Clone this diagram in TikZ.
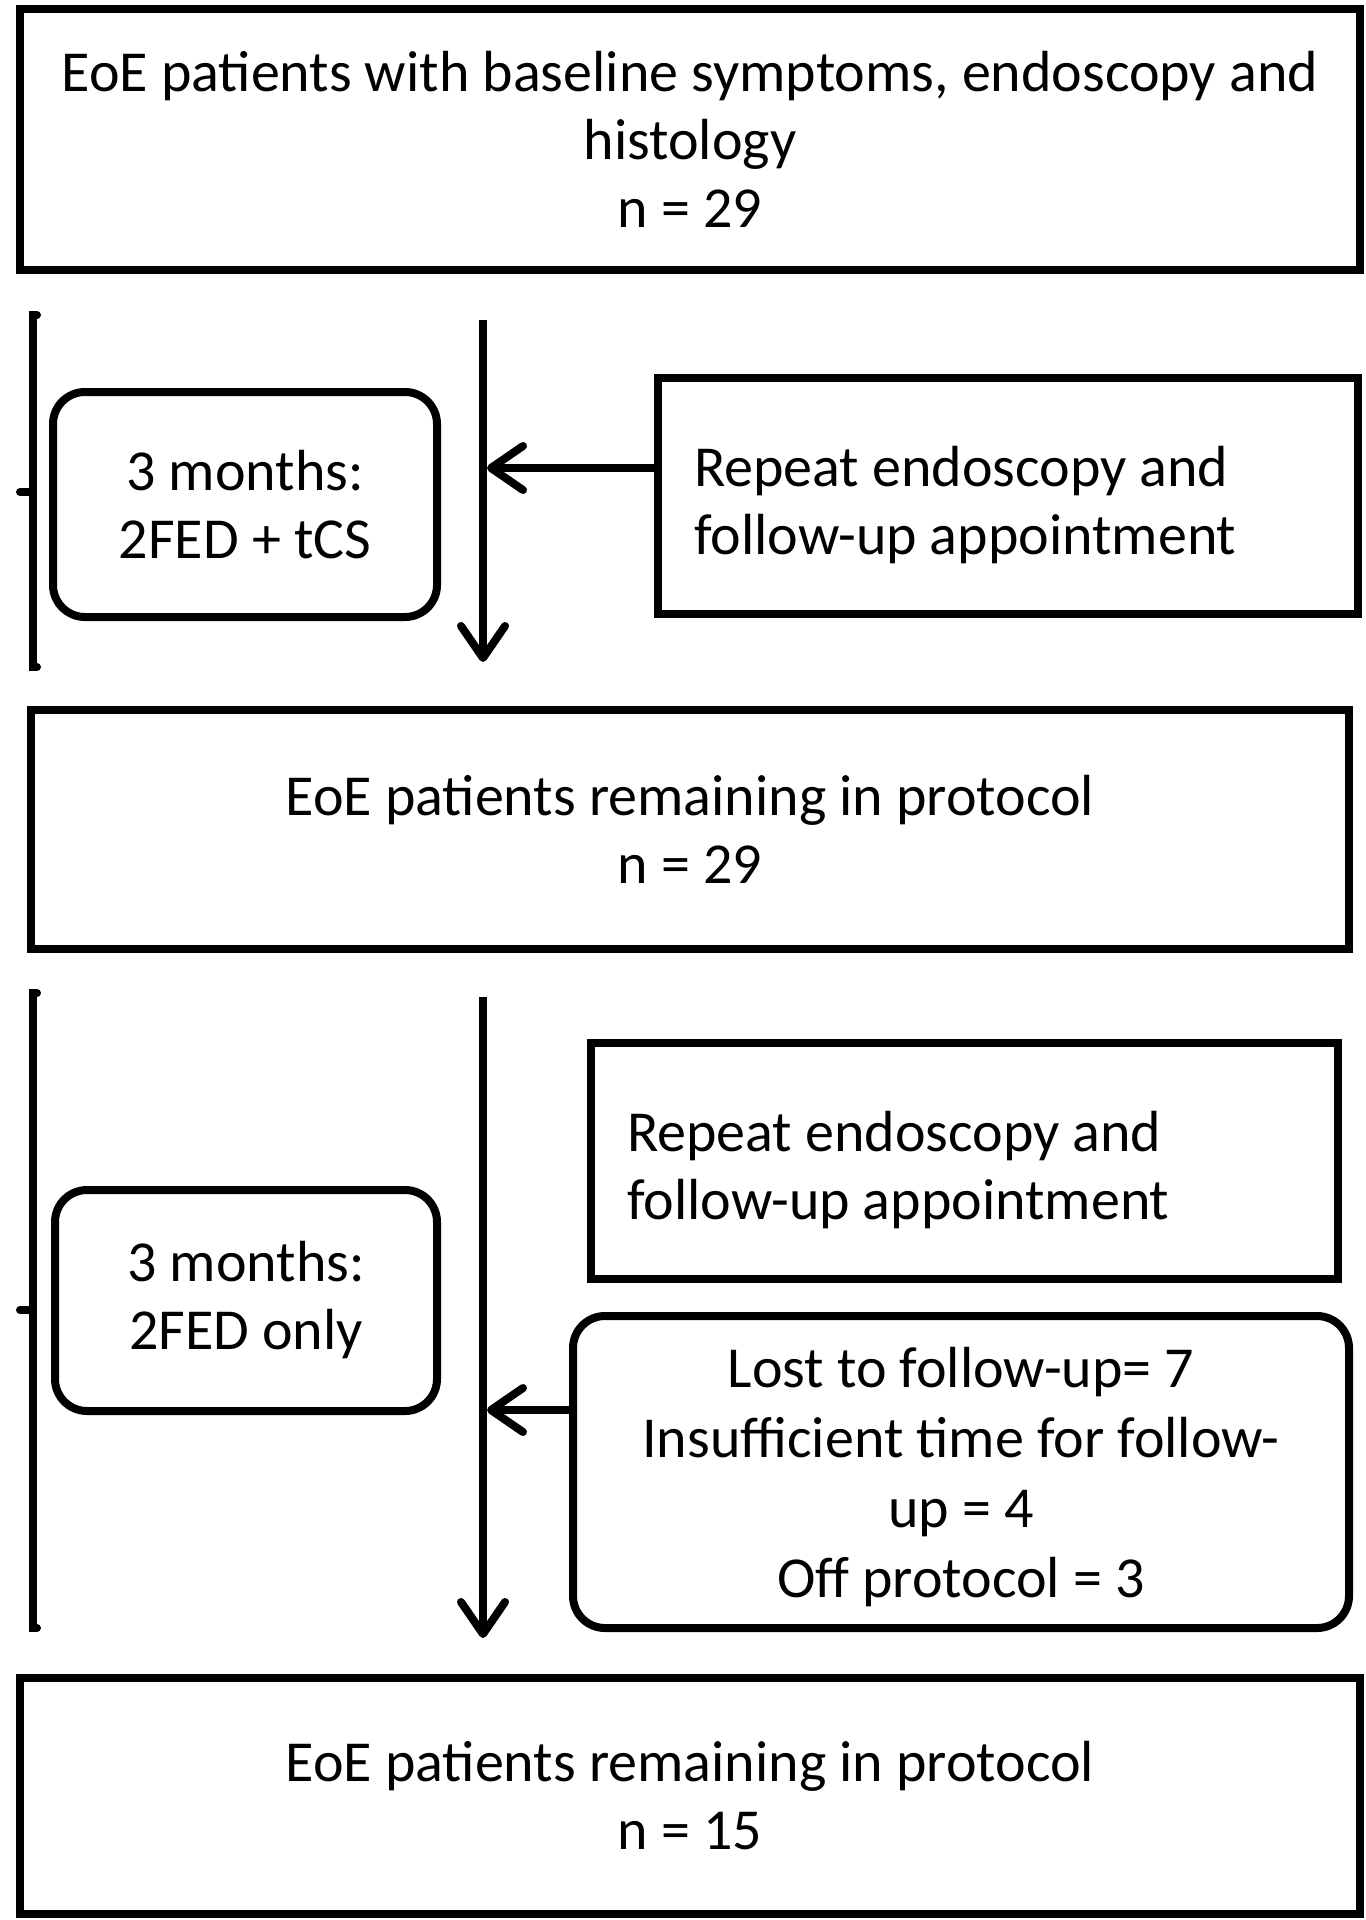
\documentclass[tikz,border=0pt]{standalone}
\usepackage{fontspec}
\setmainfont{Carlito}
\usetikzlibrary{arrows.meta}

\begin{document}
\begin{tikzpicture}[x=0.5pt,y=0.5pt,>={Straight Barb[length=16pt,width=22pt,round]}]
            \tikzset{
                box/.style={draw, line width=4pt, align=center, inner sep=0pt,
                            font=\fontsize{29}{34}\selectfont},
                roundbox/.style={box, rounded corners=16pt},
                notebox/.style={box, align=flush left, inner xsep=18pt, text depth=30pt},
                flow/.style={line width=4pt, ->},
                bracket/.style={line width=4pt, line cap=round}
            }
            \useasboundingbox (0,0) rectangle (1365,-1920);

            % baseline
            \node[box, minimum width=670pt, minimum height=130.5pt] (start) at (690,-139.5)
                {EoE patients with baseline symptoms, endoscopy and\\histology\\n = 29};

            % first period
            \draw[bracket] (37,-315) -- (33,-315) -- (33,-667) -- (37,-667)
                (33,-492) -- (20,-492);
            \node[roundbox, minimum width=192pt, minimum height=112.5pt] (therapy1) at (245,-504.5)
                {3 months:\\2FED + tCS};
            \node[notebox, text width=314pt, minimum height=118pt] (repeat1) at (1008,-496)
                {Repeat endoscopy and\\follow-up appointment};
            \coordinate (top1) at (483,-320);
            \coordinate (end1) at (483,-662);
            \coordinate (join1) at (487,-468);
            \draw[flow] (top1) -- (end1);
            \draw[flow] (repeat1.west |- join1) -- (join1);

            % after first period
            \node[box, minimum width=659pt, minimum height=119.5pt] (remain1) at (690,-829.5)
                {EoE patients remaining in protocol\\n = 29};

            % second period
            \draw[bracket] (37,-993) -- (33,-993) -- (33,-1628) -- (37,-1628)
                (33,-1310) -- (20,-1310);
            \node[roundbox, minimum width=191pt, minimum height=110.5pt] (therapy2) at (246,-1300.5)
                {3 months:\\2FED only};
            \node[notebox, text width=337.5pt, minimum height=118pt] (repeat2) at (964.5,-1161)
                {Repeat endoscopy and\\follow-up appointment};
            \node[roundbox, minimum width=388pt, minimum height=156pt, text depth=0pt,
                  font=\fontsize{29}{35}\selectfont] (lost) at (961,-1472)
                {Lost to follow-up= 7\\Insufficient time for follow-\\up = 4\\Off protocol = 3};
            \coordinate (top2) at (483,-997);
            \coordinate (end2) at (483,-1638);
            \coordinate (join2) at (487,-1410);
            \draw[flow] (top2) -- (end2);
            \draw[flow] (lost.west |- join2) -- (join2);

            % after second period
            \node[box, minimum width=670pt, minimum height=118pt] (remain2) at (690,-1796)
                {EoE patients remaining in protocol\\n = 15};
        \end{tikzpicture}
\end{document}
